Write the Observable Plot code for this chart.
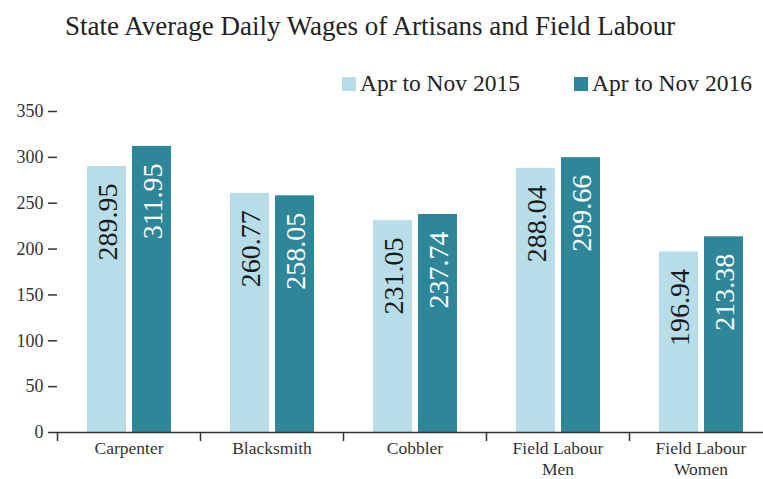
<!DOCTYPE html>
<html>
<head>
<meta charset="utf-8">
<script src="https://cdn.jsdelivr.net/npm/d3@7"></script>
<script src="https://cdn.jsdelivr.net/npm/@observablehq/plot@0.6"></script>
<style>
  body { margin: 0; background: #fff; font-family: "Liberation Serif", serif; }
  #wrap { position: relative; width: 763px; height: 479px; overflow: hidden; }
  #title { position: absolute; left: 65px; top: 11px; font-size: 27px; color: #222; white-space: nowrap; }
  #legend { position: absolute; top: 70px; left: 0; width: 763px; height: 26px; }
  .item { position: absolute; display: flex; align-items: center; font-size: 23.5px; color: #222; white-space: nowrap; }
  .sw { width: 14px; height: 14px; margin-right: 4px; }
  #chart { position: absolute; left: 0; top: 95px; }
</style>
</head>
<body>
<div id="wrap">
  <div id="title">State Average Daily Wages of Artisans and Field Labour</div>
  <div id="legend"></div>
  <div id="chart"></div>
</div>
<script>
const categories = ["Carpenter", "Blacksmith", "Cobbler", "Field Labour\nMen", "Field Labour\nWomen"];
const seriesNames = ["Apr to Nov 2015", "Apr to Nov 2016"];
const wages2015 = [289.95, 260.77, 231.05, 288.04, 196.94];
const wages2016 = [311.95, 258.05, 237.74, 299.66, 213.38];
const yTicks = [0, 50, 100, 150, 200, 250, 300, 350];
const colors = ["#b7dde8", "#2e8699"];

const legend = document.getElementById("legend");
const legendX = [342, 574];
seriesNames.forEach((s, i) => {
  const d = document.createElement("div");
  d.className = "item";
  d.style.left = legendX[i] + "px";
  d.innerHTML = `<span class="sw" style="background:${colors[i]}"></span><span>${s}</span>`;
  legend.appendChild(d);
});

const d2015 = categories.map((c, i) => ({category: c, value: wages2015[i], series: seriesNames[0]}));
const d2016 = categories.map((c, i) => ({category: c, value: wages2016[i], series: seriesNames[1]}));

const font = "Liberation Serif";
const plot = Plot.plot({
  width: 763,
  height: 384,
  marginTop: 16,
  marginBottom: 47,
  marginLeft: 57,
  marginRight: 0,
  x: {domain: categories, range: [57, 772], padding: 0, axis: null, label: null},
  y: {domain: [0, 350], range: [337, 16], axis: null, label: null},
  color: {domain: seriesNames, range: colors},
  marks: [
    Plot.barY(d2015, {x: "category", y: "value", fill: colors[0], insetLeft: 30, insetRight: 74}),
    Plot.barY(d2016, {x: "category", y: "value", fill: colors[1], insetLeft: 75, insetRight: 29}),
    Plot.text(d2015, {x: "category", y: "value", text: d => d.value.toFixed(2), rotate: -90, textAnchor: "end", dx: -21, dy: 17, fill: "#1a1a1a", fontSize: 28, lineAnchor: "middle"}),
    Plot.text(d2016, {x: "category", y: "value", text: d => d.value.toFixed(2), rotate: -90, textAnchor: "end", dx: 24, dy: 17, fill: "#ffffff", fontSize: 28, lineAnchor: "middle"}),
    Plot.axisY({ticks: yTicks, label: null, tickSize: 9, tickPadding: 5, fontSize: 18, stroke: "#333", strokeWidth: 1.5, color: "#333"}),
    Plot.ruleX([0], {x: () => 0, y1: 0, y2: 350, stroke: "#333", strokeWidth: 1.5}),
    Plot.axisX({ticks: categories, label: null, tickSize: 9, text: null, dx: -71.5, stroke: "#333", strokeWidth: 1.5}),
    Plot.axisX({ticks: categories, label: null, tickSize: 0, tickPadding: 7, fontSize: 17.5, lineHeight: 1.2, fill: "#333"}),
    Plot.ruleY([0], {stroke: "#333", strokeWidth: 1.5})
  ]
});
d3.select(plot).attr("font-family", font).style("font-family", font);
d3.select(plot).selectAll("g, text, tspan").attr("font-family", font).style("font-family", font);
document.getElementById("chart").appendChild(plot);
</script>
</body>
</html>
